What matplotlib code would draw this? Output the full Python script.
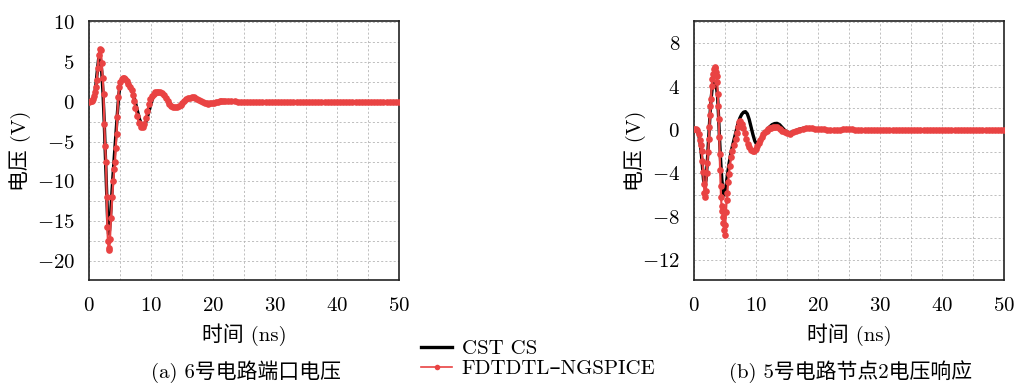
import matplotlib
matplotlib.use('Agg')
import matplotlib.pyplot as plt
from matplotlib.ticker import MultipleLocator, FuncFormatter
from matplotlib.lines import Line2D

plt.rcParams['font.family'] = ['cmr10', 'Noto Sans CJK SC', 'DejaVu Sans']
plt.rcParams['mathtext.fontset'] = 'cm'
plt.rcParams['axes.formatter.use_mathtext'] = True
plt.rcParams['axes.unicode_minus'] = False

RED = '#E94343'

# ---- (a) 6号电路端口电压 ----
t_cst_a = [0, 0.5, 0.8, 1.0, 1.2, 1.4, 1.6, 1.75, 1.9, 2.1, 2.3, 2.5, 2.7, 2.9, 3.05, 3.2, 3.35,
           3.5, 3.7, 3.9, 4.1, 4.3, 4.5, 4.7, 4.9, 5.1, 5.35, 5.6, 5.85, 6.1, 6.4, 6.7, 7.0, 7.3,
           7.6, 7.9, 8.2, 8.5, 8.8, 9.1, 9.4, 9.7, 10.0, 10.3, 10.6, 10.9, 11.2, 11.5, 11.8, 12.1,
           12.4, 12.7, 13.0, 13.3, 13.6, 13.9, 14.2, 14.5, 14.8, 15.1, 15.4, 15.7, 16.0, 16.3,
           16.6, 16.9, 17.2, 17.5, 17.8, 18.1, 18.4, 18.7, 19.0, 19.3, 19.6, 20.0, 20.5, 21.0,
           21.5, 22.0, 22.5, 23.0, 24.0, 25.0, 26.0, 27.0, 28.0, 30.0, 35.0, 40.0, 45.0, 50.0]
v_cst_a = [0, 0.1, 0.5, 1.2, 2.4, 4.0, 5.4, 5.8, 5.4, 3.8, 1.2, -2.5, -7.0, -11.5, -14.8, -16.6,
           -16.2, -14.5, -12.0, -9.5, -7.2, -5.0, -2.8, -0.6, 1.2, 2.2, 2.8, 3.05, 3.05, 2.85,
           2.5, 2.0, 1.4, 0.6, -0.3, -1.3, -2.2, -2.8, -3.05, -2.8, -2.1, -1.2, -0.3, 0.4, 0.8,
           1.05, 1.15, 1.15, 1.0, 0.78, 0.5, 0.2, -0.1, -0.4, -0.6, -0.72, -0.75, -0.65, -0.48,
           -0.25, -0.02, 0.2, 0.36, 0.47, 0.52, 0.52, 0.46, 0.36, 0.22, 0.07, -0.06, -0.15, -0.2,
           -0.22, -0.2, -0.14, -0.04, 0.05, 0.1, 0.12, 0.1, 0.06, 0.0, -0.03, -0.02, 0.01, 0.02,
           0.0, 0.0, 0.0, 0.0, 0.0]

t_fd_a = [0.0, 0.3, 0.5, 0.64, 0.8, 0.97, 1.13, 1.29, 1.45, 1.6, 1.77, 1.93, 2.1, 2.26, 2.4,
          2.52, 2.65, 2.79, 2.9, 3.0, 3.1, 3.2, 3.3, 3.43, 3.6, 3.8, 3.97, 4.13, 4.24, 4.35, 4.5,
          4.6, 4.77, 4.9, 5.1, 5.3, 5.5, 5.7, 5.9, 6.15, 6.4, 6.65, 6.9, 7.1, 7.3, 7.5, 7.8, 8.1,
          8.4, 8.7, 8.95, 9.2, 9.45, 9.7, 9.95, 10.2, 10.45, 10.7, 10.95, 11.2, 11.5, 11.8, 12.1,
          12.4, 12.7, 13.0, 13.3, 13.6, 13.9, 14.2, 14.5, 14.8, 15.1, 15.4, 15.7, 16.0, 16.3,
          16.6, 16.9, 17.2, 17.5, 17.8, 18.1, 18.4, 18.7, 19.0, 19.3, 19.6, 19.9, 20.2, 20.5,
          20.8, 21.1, 21.4, 21.7, 22.0, 22.5, 23.0, 23.5, 24.0, 24.5, 25.0, 25.5, 26.0, 26.5,
          27.0, 27.5, 28.0, 28.5, 29.0, 29.5, 30.0, 30.5, 31.0, 31.5, 32.0, 32.5, 33.0, 33.5,
          34.0, 34.5, 35.0, 35.5, 36.0, 36.5, 37.0, 37.5, 38.0, 38.5, 39.0, 39.5, 40.0, 40.5,
          41.0, 41.5, 42.0, 42.5, 43.0, 43.5, 44.0, 44.5, 45.0, 45.5, 46.0, 46.5, 47.0, 47.5,
          48.0, 48.5, 49.0, 49.5, 50.0]
v_fd_a = [0.0, 0.05, 0.15, 0.3, 0.7, 1.2, 1.9, 2.7, 4.2, 5.9, 6.7, 6.5, 4.9, 3.0, 1.0,
          -2.8, -5.5, -7.6, -12.0, -15.7, -17.5, -18.4, -18.6, -17.2, -14.6, -12.0, -9.9, -8.4,
          -7.5, -5.8, -4.0, -1.9, 0.6, 1.9, 2.5, 2.9, 3.05, 3.05, 2.9, 2.6, 2.2, 1.9, 1.5, 0.8,
          0.1, -0.8, -1.8, -2.7, -3.1, -3.2, -2.8, -2.0, -1.1, -0.3, 0.3, 0.7, 1.0, 1.2, 1.27,
          1.26, 1.22, 1.05, 0.8, 0.45, 0.1, -0.25, -0.5, -0.65, -0.7, -0.68, -0.55, -0.35,
          -0.12, 0.1, 0.3, 0.45, 0.53, 0.56, 0.55, 0.48, 0.37, 0.22, 0.08, -0.05, -0.14, -0.19,
          -0.21, -0.2, -0.17, -0.12, -0.06, 0.0, 0.06, 0.1, 0.13, 0.14, 0.13, 0.1, 0.06, 0.03,
          0.0, -0.02, -0.02, -0.02, 0.0, 0.01, 0.02, 0.02, 0.02, 0.01, 0.01, 0.0, 0.0, 0.0,
          0.01, 0.01, 0.0, 0.0, 0.0, 0.0, 0.0, 0.0,
          0.0, 0.0, 0.0, 0.0, 0.0, 0.0, 0.0, 0.0, 0.0, 0.0,
          0.0, 0.0, 0.0, 0.0, 0.0, 0.0, 0.0, 0.0, 0.0, 0.0,
          0.0, 0.0, 0.0, 0.0, 0.0, 0.0, 0.0, 0.0, 0.0, 0.0]

# ---- (b) 5号电路节点2电压响应 ----
t_cst_b = [0, 0.5, 0.8, 1.1, 1.35, 1.55, 1.75, 1.95, 2.15, 2.35, 2.55, 2.75, 2.95, 3.15, 3.4,
           3.6, 3.8, 3.95, 4.1, 4.3, 4.5, 4.7, 4.9, 5.1, 5.35, 5.6, 5.9, 6.2, 6.5, 6.8, 7.1, 7.4,
           7.7, 8.0, 8.3, 8.6, 8.9, 9.2, 9.5, 9.8, 10.1, 10.4, 10.7, 11.0, 11.4, 11.8, 12.2,
           12.6, 13.0, 13.4, 13.8, 14.2, 14.6, 15.0, 15.4, 15.8, 16.3, 16.8, 17.3, 17.8, 18.3,
           18.8, 19.5, 20.5, 22.0, 25.0, 30.0, 40.0, 50.0]
v_cst_b = [0, 0.0, -0.5, -1.6, -3.2, -4.6, -5.2, -4.6, -3.0, -1.0, 1.0, 2.8, 3.9, 4.3, 4.35,
           4.1, 3.2, 1.5, -0.5, -2.8, -4.6, -5.7, -6.0, -5.5, -4.4, -3.3, -2.3, -1.5, -0.8,
           -0.1, 0.6, 1.1, 1.45, 1.65, 1.7, 1.5, 1.0, 0.3, -0.4, -1.0, -1.3, -1.25, -1.0, -0.7,
           -0.3, 0.05, 0.3, 0.5, 0.6, 0.62, 0.5, 0.25, 0.0, -0.18, -0.24, -0.2, -0.08, 0.04,
           0.12, 0.18, 0.2, 0.18, 0.1, 0.03, 0.0, 0.03, 0.02, 0.02, 0.02]

t_fd_b = [0.0, 0.3, 0.55, 0.75, 0.97, 1.1, 1.24, 1.37, 1.5, 1.6, 1.7, 1.82, 1.93, 2.04, 2.17,
          2.3, 2.42, 2.5, 2.58, 2.67, 2.74, 2.85, 2.97, 3.1, 3.2, 3.33, 3.45, 3.55, 3.65, 3.76,
          3.84, 3.9, 3.98, 4.08, 4.15, 4.22, 4.3, 4.37, 4.45, 4.55, 4.65, 4.75, 4.85, 4.94,
          5.05, 5.15, 5.27, 5.37, 5.5, 5.62, 5.8, 6.0, 6.2, 6.45, 6.7, 6.9, 7.1, 7.3, 7.5, 7.7,
          7.95, 8.2, 8.45, 8.7, 8.95, 9.2, 9.45, 9.7, 9.95, 10.2, 10.45, 10.7, 10.95, 11.2,
          11.45, 11.7, 11.95, 12.2, 12.45, 12.7, 13.05, 13.4, 13.8, 14.2, 14.6, 15.0, 15.5,
          16.0, 16.5, 17.0, 17.5, 18.0, 18.5, 19.0, 19.5, 20.0, 20.5, 21.0, 21.5, 22.0, 22.5,
          23.0, 23.5, 24.0, 24.5, 25.0, 25.5, 26.0, 26.5, 27.0, 27.5, 28.0, 28.5, 29.0, 29.5,
          30.0, 30.5, 31.0, 31.5, 32.0, 32.5, 33.0, 33.5, 34.0, 34.5, 35.0, 35.5, 36.0, 36.5,
          37.0, 37.5, 38.0, 38.5, 39.0, 39.5, 40.0, 40.5, 41.0, 41.5, 42.0, 42.5, 43.0, 43.5,
          44.0, 44.5, 45.0, 45.5, 46.0, 46.5, 47.0, 47.5, 48.0, 48.5, 49.0, 49.5, 50.0]
v_fd_b = [0.1, 0.12, 0.0, -0.4, -0.9, -1.4, -1.9, -2.9, -3.9, -5.0, -5.8, -6.2, -5.6, -4.0,
          -3.0, -2.0, -0.8, 0.3, 1.4, 2.2, 2.9, 4.1, 4.7, 5.2, 5.6, 5.85, 5.75, 5.4, 5.0, 4.4,
          3.3, 2.2, 1.0, -0.6, -2.2, -3.7, -5.2, -6.2, -7.0, -7.5, -8.0, -8.6, -9.2, -9.7,
          -8.8, -7.6, -6.5, -5.8, -4.8, -4.1, -3.3, -2.5, -1.9, -1.4, -0.8, -0.3, 0.3, 0.7,
          0.8, 0.6, 0.2, -0.3, -0.8, -1.3, -1.6, -1.85, -1.95, -1.9, -1.75, -1.5, -1.2, -0.9,
          -0.6, -0.4, -0.2, -0.05, 0.07, 0.15, 0.22, 0.27, 0.3, 0.25, 0.1, -0.08, -0.22, -0.3,
          -0.32, -0.22, -0.08, 0.05, 0.13, 0.17, 0.18, 0.17, 0.14, 0.11, 0.08, 0.06, 0.04,
          0.03, 0.03, 0.04, 0.05, 0.06, 0.06, 0.06,
          0.06, 0.05, 0.05, 0.05, 0.05, 0.05, 0.05, 0.05, 0.05, 0.05,
          0.05, 0.05, 0.05, 0.05, 0.05, 0.05, 0.05, 0.05, 0.05, 0.05,
          0.05, 0.05, 0.05, 0.05, 0.05, 0.05, 0.05, 0.05, 0.05, 0.05,
          0.05, 0.05, 0.05, 0.05, 0.05, 0.05, 0.05, 0.05, 0.05, 0.05,
          0.05, 0.05, 0.05, 0.05, 0.05, 0.05, 0.05, 0.05, 0.05, 0.05]

xticks = [0, 10, 20, 30, 40, 50]
yticks_a = [-20, -15, -10, -5, 0, 5, 10]
yticks_b = [-12, -8, -4, 0, 4, 8]

fig = plt.figure(figsize=(10.16, 3.83), dpi=100)
ax1 = fig.add_axes([0.0873, 0.2689, 0.3054, 0.677])
ax2 = fig.add_axes([0.683, 0.2689, 0.3054, 0.677])

fmt = FuncFormatter(lambda v, p: '$%d$' % round(v))


def style(ax, yticks, ylim, yminor, ylab_x):
    ax.set_xlim(0, 50)
    ax.set_ylim(*ylim)
    ax.set_xticks(xticks)
    ax.set_yticks(yticks)
    ax.xaxis.set_minor_locator(MultipleLocator(5))
    ax.yaxis.set_minor_locator(MultipleLocator(yminor))
    ax.xaxis.set_major_formatter(fmt)
    ax.yaxis.set_major_formatter(fmt)
    ax.grid(True, which='both', color='#b4b4b4', linestyle=(0, (2.5, 2.5)), linewidth=0.6)
    ax.set_axisbelow(True)
    ax.tick_params(axis='x', which='both', length=0, labelsize=15, pad=12)
    ax.tick_params(axis='y', which='both', length=0, labelsize=15, pad=10)
    for s in ax.spines.values():
        s.set_linewidth(1.2)
        s.set_color('#222222')
    ax.set_xlabel('时间 (ns)', fontsize=15, va='center')
    ax.set_ylabel('电压 (V)', fontsize=15, va='center')
    ax.xaxis.set_label_coords(0.5, -0.212)
    ax.yaxis.set_label_coords(ylab_x, 0.5)


ax1.plot(t_cst_a, v_cst_a, color='black', linewidth=2.4, zorder=3)
ax1.plot(t_fd_a, v_fd_a, color=RED, linewidth=1.6, marker='o', markersize=4.8,
         markeredgewidth=0, zorder=4)
style(ax1, yticks_a, (-22.4, 10.2), 2.5, -0.221)

ax2.plot(t_cst_b, v_cst_b, color='black', linewidth=2.4, zorder=3)
ax2.plot(t_fd_b, v_fd_b, color=RED, linewidth=1.6, marker='o', markersize=4.8,
         markeredgewidth=0, zorder=4)
style(ax2, yticks_b, (-13.85, 10.1), 2, -0.19)

cap_y = (383 - 372) / 383
fig.text(0.2425, cap_y, '(a) 6号电路端口电压', ha='center', va='center', fontsize=15)
fig.text(0.837, cap_y, '(b) 5号电路节点2电压响应', ha='center', va='center', fontsize=15)

handles = [Line2D([], [], color='black', linewidth=2.4),
           Line2D([], [], color=RED, linewidth=1.2, marker='o', markersize=4.0,
                  markeredgewidth=0)]
fig.legend(handles, ['CST CS', 'FDTDTL–NGSPICE'], loc='lower left',
           bbox_to_anchor=(0.4, -0.025), frameon=False, fontsize=15,
           handlelength=1.5, handletextpad=0.45, labelspacing=0.05, borderpad=0.2)

fig.savefig('out.png', dpi=100)
